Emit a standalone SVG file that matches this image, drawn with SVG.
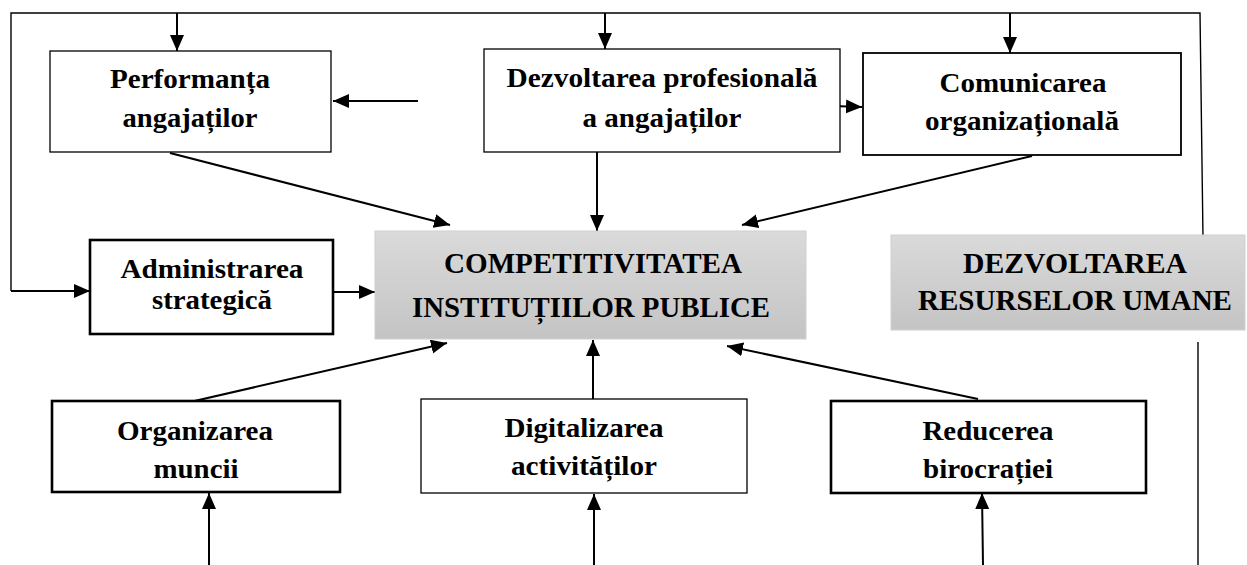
<svg xmlns="http://www.w3.org/2000/svg" width="1247" height="565" viewBox="0 0 1247 565">
  <style>
    .box { fill: #ffffff; stroke: #000000; }
    .thin { stroke-width: 1.3; }
    .mid { stroke-width: 1.8; }
    .thick { stroke-width: 2.6; }
    .gray { fill: url(#grayFill); stroke: #d0d0d0; stroke-width: 1; }
    .lbl { font-family: "Liberation Serif", "Times New Roman", serif; font-weight: bold; font-size: 27px; fill: #000000; text-anchor: middle; }
    .big { font-size: 30px; }
    .conn { stroke: #000000; stroke-width: 2; fill: none; }
    .frame { stroke: #000000; stroke-width: 1.4; fill: none; }
  </style>
  <defs>
    <linearGradient id="grayFill" x1="0" y1="0" x2="0" y2="1">
      <stop offset="0" stop-color="#dadada"/>
      <stop offset="1" stop-color="#c4c4c4"/>
    </linearGradient>
    <marker id="arrow" markerUnits="userSpaceOnUse" markerWidth="18" markerHeight="16" refX="16" refY="7" orient="auto">
      <path d="M0,0 L16,7 L0,14 Z" fill="#000000"/>
    </marker>
  </defs>

  <rect width="1247" height="565" fill="#ffffff"/>

  <!-- connectors -->
  <g id="connectors">
    <!-- outer feedback frame -->
    <polyline class="frame" points="11,291 11,13 1200,13 1203,238"/>
    <line class="frame" x1="1198" y1="342" x2="1198" y2="565"/>
    <line class="conn" x1="11" y1="291" x2="90" y2="291" marker-end="url(#arrow)"/>
    <!-- drops from the frame into the top row -->
    <line class="conn" x1="177" y1="13" x2="177" y2="51" marker-end="url(#arrow)"/>
    <line class="conn" x1="605" y1="13" x2="605" y2="49" marker-end="url(#arrow)"/>
    <line class="conn" x1="1010" y1="13" x2="1010" y2="53" marker-end="url(#arrow)"/>
    <!-- side arrows in the top row -->
    <line class="conn" x1="418" y1="101" x2="333" y2="101" marker-end="url(#arrow)"/>
    <line class="conn" x1="775" y1="104" x2="862" y2="107" marker-end="url(#arrow)"/>
    <!-- top row into the centre -->
    <line class="conn" x1="170" y1="153" x2="450" y2="225" marker-end="url(#arrow)"/>
    <line class="conn" x1="597" y1="152" x2="597" y2="231" marker-end="url(#arrow)"/>
    <line class="conn" x1="1032" y1="156" x2="742" y2="225" marker-end="url(#arrow)"/>
    <!-- middle row into the centre -->
    <line class="conn" x1="333" y1="292" x2="375" y2="292" marker-end="url(#arrow)"/>
    <!-- bottom row into the centre -->
    <line class="conn" x1="177" y1="405" x2="447" y2="343" marker-end="url(#arrow)"/>
    <line class="conn" x1="593" y1="399" x2="593" y2="340" marker-end="url(#arrow)"/>
    <line class="conn" x1="978" y1="399" x2="727" y2="346" marker-end="url(#arrow)"/>
    <!-- rising arrows under the bottom row -->
    <line class="conn" x1="209" y1="565" x2="209" y2="493" marker-end="url(#arrow)"/>
    <line class="conn" x1="594" y1="565" x2="594" y2="494" marker-end="url(#arrow)"/>
    <line class="conn" x1="983" y1="565" x2="982" y2="493" marker-end="url(#arrow)"/>
  </g>

  <g id="performanta">
    <rect class="box thin" x="50" y="51" width="281" height="101"/>
    <text class="lbl" x="190" y="88" textLength="160" lengthAdjust="spacingAndGlyphs">Performanța</text>
    <text class="lbl" x="190" y="127" textLength="135" lengthAdjust="spacingAndGlyphs">angajaților</text>
  </g>

  <g id="dezvoltarea-profesionala">
    <rect class="box thin" x="484" y="49" width="356" height="103"/>
    <text class="lbl" x="662" y="87" textLength="311" lengthAdjust="spacingAndGlyphs">Dezvoltarea profesională</text>
    <text class="lbl" x="662" y="127" textLength="159" lengthAdjust="spacingAndGlyphs">a angajaților</text>
  </g>

  <g id="comunicarea">
    <rect class="box mid" x="863" y="53" width="318" height="102"/>
    <text class="lbl" x="1023" y="92" textLength="167" lengthAdjust="spacingAndGlyphs">Comunicarea</text>
    <text class="lbl" x="1022" y="130" textLength="194" lengthAdjust="spacingAndGlyphs">organizațională</text>
  </g>

  <g id="administrarea">
    <rect class="box thick" x="90" y="240" width="243" height="94"/>
    <text class="lbl" x="212" y="278" textLength="183" lengthAdjust="spacingAndGlyphs">Administrarea</text>
    <text class="lbl" x="212" y="309" textLength="120" lengthAdjust="spacingAndGlyphs">strategică</text>
  </g>

  <g id="competitivitatea">
    <rect class="gray" x="375" y="231" width="431" height="108"/>
    <text class="lbl big" x="593" y="273" textLength="298" lengthAdjust="spacingAndGlyphs">COMPETITIVITATEA</text>
    <text class="lbl big" x="591" y="317" textLength="358" lengthAdjust="spacingAndGlyphs">INSTITUȚIILOR PUBLICE</text>
  </g>

  <g id="dezvoltarea-resurselor">
    <rect class="gray" x="891" y="235" width="354" height="95"/>
    <text class="lbl big" x="1075" y="273" textLength="224" lengthAdjust="spacingAndGlyphs">DEZVOLTAREA</text>
    <text class="lbl big" x="1075" y="310" textLength="314" lengthAdjust="spacingAndGlyphs">RESURSELOR UMANE</text>
  </g>

  <g id="organizarea">
    <rect class="box thick" x="52" y="401" width="288" height="91"/>
    <text class="lbl" x="195" y="440" textLength="156" lengthAdjust="spacingAndGlyphs">Organizarea</text>
    <text class="lbl" x="196" y="478" textLength="85" lengthAdjust="spacingAndGlyphs">muncii</text>
  </g>

  <g id="digitalizarea">
    <rect class="box thin" x="421" y="399" width="326" height="94"/>
    <text class="lbl" x="584" y="437" textLength="159" lengthAdjust="spacingAndGlyphs">Digitalizarea</text>
    <text class="lbl" x="584" y="475" textLength="146" lengthAdjust="spacingAndGlyphs">activităților</text>
  </g>

  <g id="reducerea">
    <rect class="box thick" x="831" y="401" width="315" height="92"/>
    <text class="lbl" x="988" y="440" textLength="131" lengthAdjust="spacingAndGlyphs">Reducerea</text>
    <text class="lbl" x="988" y="478" textLength="130" lengthAdjust="spacingAndGlyphs">birocrației</text>
  </g>
</svg>
